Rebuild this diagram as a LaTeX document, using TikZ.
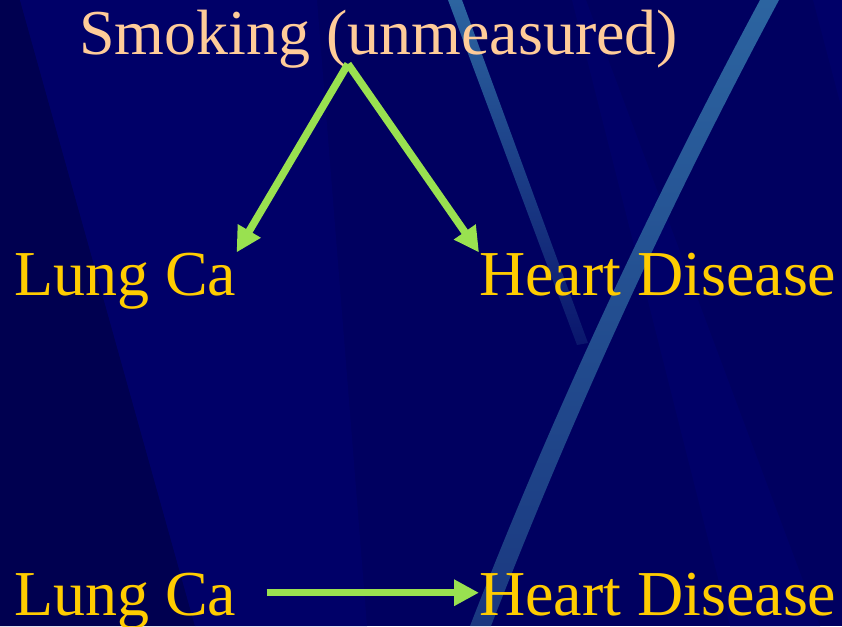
\documentclass[tikz,border=0pt]{standalone}
\usepackage{fontspec}
\setmainfont{Liberation Serif}
\usetikzlibrary{arrows.meta}

\definecolor{navy}{RGB}{0,0,96}
\definecolor{navydark}{RGB}{0,0,80}
\definecolor{navylight}{RGB}{0,0,104}
\definecolor{streaktop}{RGB}{44,100,160}
\definecolor{streakbot}{RGB}{26,56,128}
\definecolor{peach}{RGB}{255,204,153}
\definecolor{gold}{RGB}{255,204,0}
\definecolor{arrowgreen}{RGB}{153,225,80}

\begin{document}
\begin{tikzpicture}[x=1pt, y=-1pt,
    label/.style={inner sep=0pt, font=\fontsize{64}{70}\selectfont},
    cause/.style={draw=arrowgreen, line width=7.5pt,
        -{Triangle[length=25pt, width=25pt]}}]

        % Background
        \useasboundingbox (0,0) rectangle (842,626);
        \fill[navy] (0,0) rectangle (842,626);
        \fill[navydark] (0,0) -- (20,0) -- (195,626) -- (0,626) -- cycle;
        \fill[navylight] (20,0) -- (317,0) -- (367,626) -- (195,626) -- cycle;
        \fill[navylight] (572,0) -- (586,0) -- (820,626) -- (730,626) -- cycle;
        \fill[navylight] (813,0) -- (842,0) -- (842,110) -- cycle;

        % Streaks
        \shade[top color=streaktop, bottom color=navy!60!streakbot]
            (448,0) -- (462,0) -- (588,343) -- (577,345) -- cycle;
        \shade[top color=streaktop, bottom color=streakbot]
            (760,0) .. controls (648,209) and (551,417) .. (470,626)
            -- (491,626) .. controls (572,417) and (667,209) .. (779,0) -- cycle;

        % Labels
        \node[label, anchor=base west, text=peach] (smoke) at (79,55) {Smoking (unmeasured)};
        \node[label, anchor=base west, text=gold] (lung1) at (14,295) {Lung Ca};
        \node[label, anchor=base west, text=gold] (heart1) at (479,295) {Heart Disease};
        \node[label, anchor=base west, text=gold] (lung2) at (14,615) {Lung Ca};
        \node[label, anchor=base west, text=gold] (heart2) at (479,615) {Heart Disease};

        % Common cause
        \coordinate (fork) at (348,64);
        \draw[cause] (fork) -- (lung1.north east);
        \draw[cause] (fork) -- (heart1.north west);

        % Direct effect
        \draw[cause, shorten <=30pt] ([yshift=8pt]lung2.east) -- ([yshift=8pt]lung2.east -| heart2.west);

    \end{tikzpicture}
\end{document}
